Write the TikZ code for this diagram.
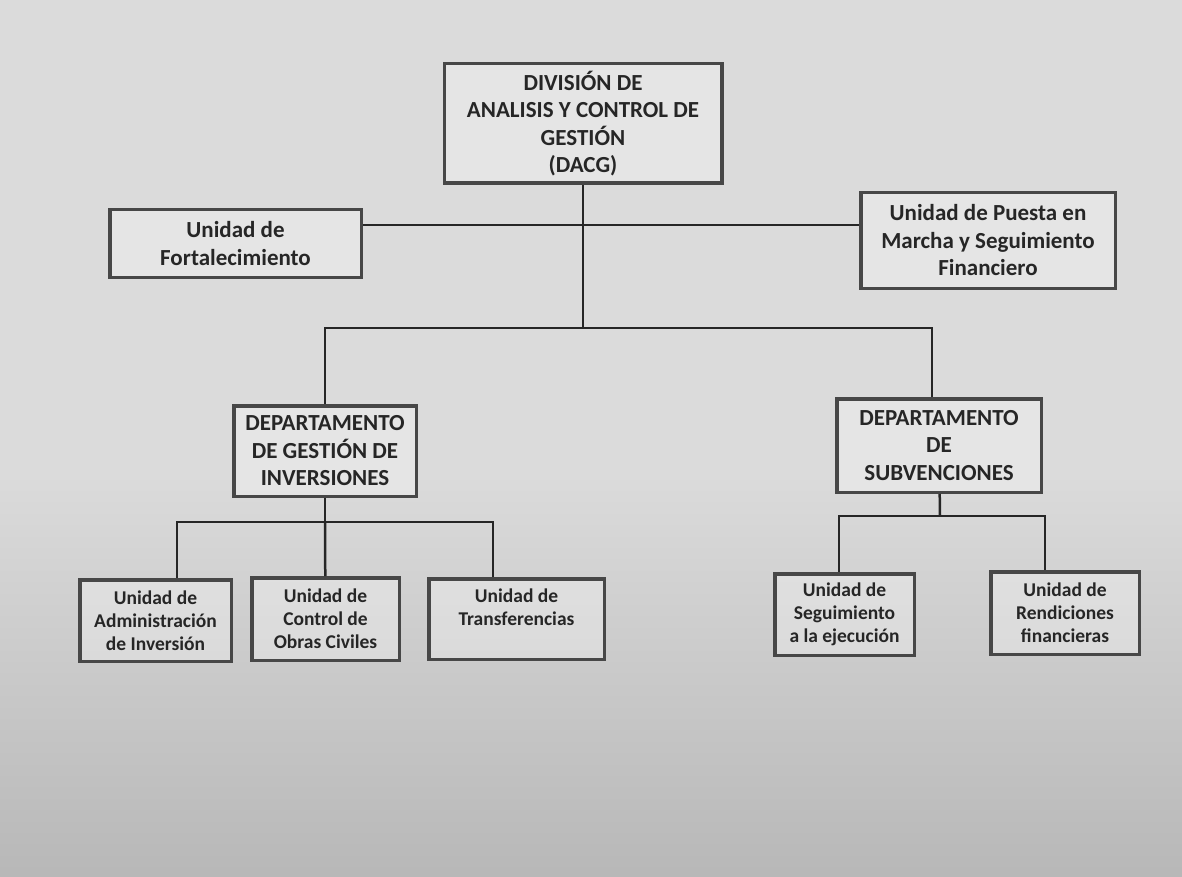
\documentclass[tikz,border=0pt]{standalone}
\usepackage{fontspec}
\setmainfont{Carlito}
\usepackage{tikz}
\usetikzlibrary{positioning}

\definecolor{paper}{gray}{0.86}
\definecolor{paperdark}{gray}{0.72}
\definecolor{ink}{gray}{0.15}
\definecolor{frame}{gray}{0.28}

\tikzset{
  unit/.style={draw=frame, line width=3.5pt, fill=white, fill opacity=0.3,
    text opacity=1, text=ink, align=center, inner sep=0pt,
    font=\bfseries\fontsize{23}{27.5}\selectfont},
  subunit/.style={unit, font=\bfseries\fontsize{19.5}{23}\selectfont},
  link/.style={draw=ink, line width=2.5pt}
}

\begin{document}
\begin{tikzpicture}[x=1pt, y=-1pt]
    \useasboundingbox (0,0) rectangle (1182,877);
    \fill[paper] (0,0) rectangle (1182,470);
    \shade[top color=paper, bottom color=paperdark] (0,470) rectangle (1182,877);

    \node[unit, minimum width=277.5pt, minimum height=119.5pt] (dacg) at (583,123.5)
      {DIVISIÓN DE\\ANALISIS Y CONTROL DE\\GESTIÓN\\(DACG)};
    \node[unit, minimum width=251.5pt, minimum height=67.5pt] (fort) at (235.5,243.5)
      {Unidad de\\Fortalecimiento};
    \node[unit, minimum width=254.5pt, minimum height=95.5pt] (puesta) at (988,240.5)
      {Unidad de Puesta en\\Marcha y Seguimiento\\Financiero};
    \node[unit, minimum width=182.5pt, minimum height=90.5pt] (depinv) at (325,451)
      {DEPARTAMENTO\\DE GESTIÓN DE\\INVERSIONES};
    \node[unit, minimum width=204.5pt, minimum height=93.5pt] (depsub) at (939,445.5)
      {DEPARTAMENTO\\DE\\SUBVENCIONES};
    \node[subunit, minimum width=151.5pt, minimum height=81.5pt] (admin) at (155.5,620.5)
      {Unidad de\\Administración\\de Inversión};
    \node[subunit, minimum width=147.5pt, minimum height=82.5pt] (obras) at (325.5,619)
      {Unidad de\\Control de\\Obras Civiles};
    \node[subunit, minimum width=175.5pt, minimum height=80.5pt] (transf) at (516.5,619)
      {Unidad de\\Transferencias\\\mbox{}};
    \node[subunit, minimum width=139.5pt, minimum height=81.5pt] (segui) at (844.5,614.5)
      {Unidad de\\Seguimiento\\a la ejecución};
    \node[subunit, minimum width=148.5pt, minimum height=82.5pt] (rendi) at (1065,613)
      {Unidad de\\Rendiciones\\financieras};

    \coordinate (staff) at (583,225);
    \coordinate (deps) at (583,328);
    \coordinate (invbar) at (325,522);
    \coordinate (subbar) at (940,516);

    \path[link]
      (dacg) edge (deps)
      (fort.east |- staff) edge (puesta.west |- staff)
      (deps) edge[to path={-| (\tikztotarget)}] (depinv.north)
      (deps) edge[to path={-| (\tikztotarget)}] ([xshift=-7pt]depsub.north)
      (depinv) edge (invbar)
      (invbar) edge[to path={-| (\tikztotarget)}] ([xshift=21.5pt]admin.north)
      (invbar) edge (obras)
      (invbar) edge[to path={-| (\tikztotarget)}] ([xshift=-23.5pt]transf.north)
      (depsub) edge (subbar)
      (subbar) edge[to path={-| (\tikztotarget)}] ([xshift=-5.5pt]segui.north)
      (subbar) edge[to path={-| (\tikztotarget)}] ([xshift=-20pt]rendi.north);
\end{tikzpicture}
\end{document}
